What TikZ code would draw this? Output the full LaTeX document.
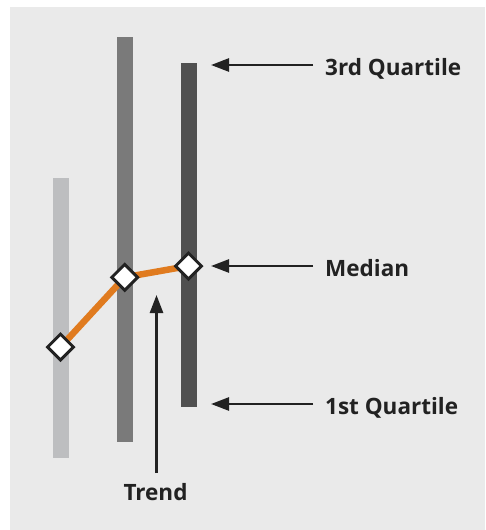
\documentclass[tikz,border=0pt]{standalone}
\usepackage{fontspec}
\setmainfont{Open Sans}
\usetikzlibrary{arrows.meta,shapes.geometric}
\definecolor{bgc}{HTML}{EAEAEA}
\definecolor{barA}{HTML}{BDBEC0}
\definecolor{barB}{HTML}{7A7A7A}
\definecolor{barC}{HTML}{505050}
\definecolor{trendc}{HTML}{E07B1F}
\definecolor{inkc}{HTML}{222222}
\tikzset{
  dmd/.style={shape=diamond, draw=inkc, line width=3pt, fill=white, inner sep=0pt, minimum width=27pt, minimum height=27pt},
  lbl/.style={anchor=base west, inner sep=0pt, text=inkc, font=\bfseries\fontsize{22.5}{27}\selectfont},
  pointer/.style={draw=inkc, line width=2.6pt, -{Triangle[length=18pt, width=13pt]}},
  trendline/.style={draw=trendc, line width=6.5pt}
}
\begin{document}
\begin{tikzpicture}[x=1pt, y=-1pt]
\useasboundingbox (0,0) rectangle (485,530);
\fill[bgc] (10,7) rectangle (485,530);
% bars
\fill[barA] (53,178) rectangle (69,458);
\fill[barB] (117,37) rectangle (133,442);
\fill[barC] (181,63) rectangle (197,407);
% trend points
\coordinate (c1) at (60.5,347);
\coordinate (c2) at (124.7,277.3);
\coordinate (c3) at (188.5,266);
\draw[trendline] (c1) -- (c2) -- (c3);
\node[dmd] (d1) at (c1) {};
\node[dmd] (d2) at (c2) {};
\node[dmd] (d3) at (c3) {};
% labels
\node[lbl] (q3) at (325,75.5) {3rd Quartile};
\node[lbl] (med) at (325,276) {Median};
\node[lbl] (q1) at (325,414) {1st Quartile};
\node[lbl, anchor=base] (tr) at (155.5,500.5) {Trend};
% pointer ends
\coordinate (q3s) at (313,65);
\coordinate (q3t) at (211,65);
\coordinate (meds) at (313,266);
\coordinate (medt) at (211,266);
\coordinate (q1s) at (313,404);
\coordinate (q1t) at (211,404);
\coordinate (trs) at (156.5,473);
\coordinate (trt) at (156.5,295);
\draw[pointer] (q3s) -- (q3t);
\draw[pointer] (meds) -- (medt);
\draw[pointer] (q1s) -- (q1t);
\draw[pointer] (trs) -- (trt);
\end{tikzpicture}
\end{document}
